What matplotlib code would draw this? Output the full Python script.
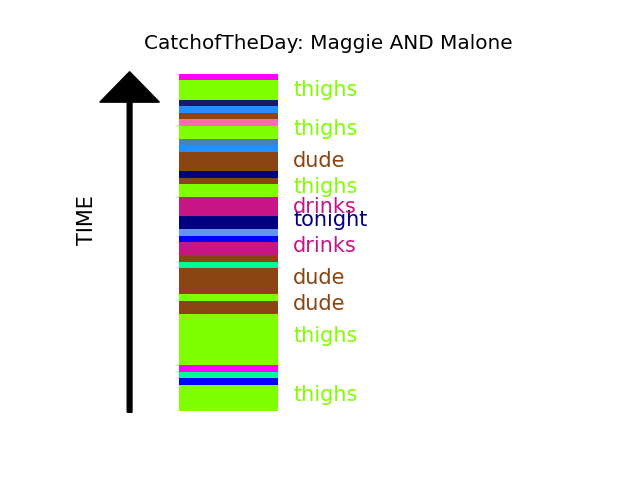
import numpy as np
from matplotlib import pyplot as plt

# segments from bottom (start of day) to top
durations = [4, 1, 1, 1, 8, 2, 1, 4, 1, 1, 2, 1, 1, 2, 3, 2, 1, 1, 3, 1, 1, 2, 1, 1, 1, 1, 3, 1]
colors = ['chartreuse', 'blue', 'mediumspringgreen', 'magenta', 'chartreuse', 'saddlebrown',
          'chartreuse', 'saddlebrown', 'mediumspringgreen', 'saddlebrown', 'mediumvioletred',
          'blue', 'cornflowerblue', 'navy', 'mediumvioletred', 'chartreuse', 'saddlebrown',
          'navy', 'saddlebrown', 'dodgerblue', 'steelblue', 'chartreuse', 'hotpink',
          'saddlebrown', 'dodgerblue', 'midnightblue', 'chartreuse', 'magenta']
words = ['thighs', '', '', '', 'thighs', 'dude', '', 'dude', '', '', 'drinks', '', '', 'tonight',
         'drinks', 'thighs', '', '', 'dude', '', '', 'thighs', '', '', '', '', 'thighs', '']

fig = plt.figure(figsize=(6.4, 4.8), dpi=100)
ax = fig.add_subplot(111)

starts = np.concatenate([[0], np.cumsum(durations)[:-1]])
ax.bar(np.ones(len(durations)), durations, bottom=starts, width=1, align='edge', color=colors)

for s, d, c, w in zip(starts, durations, colors, words):
    if w:
        ax.text(2.15, s + d // 2 + 0.5, w, color=c, fontsize=15, va='center')

ax.arrow(0.5, -0.25, 0, 47.9, width=0.048, head_width=0.6, head_length=4.7, color='k')
ax.text(0.075, 29.4, 'TIME', rotation=90, fontsize=15, va='center', ha='center')

ax.set_xlim(0, 5)
ax.set_ylim(-2.55, 54.53)
ax.axis('off')
ax.set_title('CatchofTheDay: Maggie AND Malone', fontsize=14.4)
plt.savefig('out.png')
